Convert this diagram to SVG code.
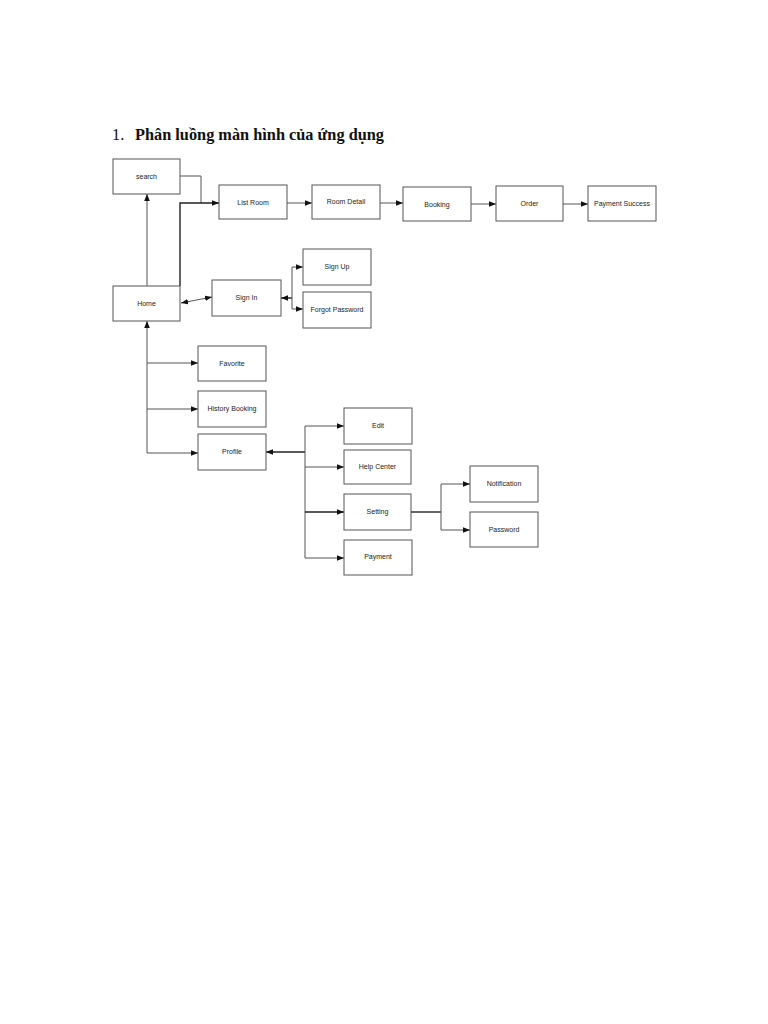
<svg xmlns="http://www.w3.org/2000/svg" width="768" height="1024" viewBox="0 0 768 1024">
<style>
.box{fill:#fff;stroke:#555;stroke-width:1}
.lbl{font-family:"Liberation Sans",Arial,sans-serif;font-size:7px;fill:#222;text-anchor:middle}
.ln{fill:none;stroke:#555;stroke-width:1}
.dk{fill:none;stroke:#222;stroke-width:1.4}
.title{font-family:"Liberation Serif","Times New Roman",serif;font-size:16.3px;fill:#111}
</style>
<defs>
<marker id="ar" viewBox="0 0 10 10" refX="10" refY="5" markerWidth="7" markerHeight="7" orient="auto-start-reverse" markerUnits="userSpaceOnUse">
<path d="M0,1 L10,5 L0,9 z" fill="#111"/>
</marker>
</defs>
<rect width="768" height="1024" fill="#fff"/>
<text class="title" x="112" y="140">1.</text>
<text class="title" x="135" y="140" font-weight="bold" textLength="249" lengthAdjust="spacingAndGlyphs">Phân luồng màn hình của ứng dụng</text>

<g id="connectors">
<path class="ln" d="M147,286 V194" marker-end="url(#ar)"/>
<path class="ln" d="M180,176 H201 V203"/>
<path class="dk" d="M180,286 V203 H219" marker-end="url(#ar)"/>
<path class="ln" d="M287,203 H312" marker-end="url(#ar)"/>
<path class="ln" d="M380,203 H403" marker-end="url(#ar)"/>
<path class="ln" d="M471,204 H496" marker-end="url(#ar)"/>
<path class="ln" d="M563,204 H588" marker-end="url(#ar)"/>
<path class="ln" d="M181,303 L212,297" marker-start="url(#ar)" marker-end="url(#ar)"/>
<path class="dk" d="M292,298 H281" marker-end="url(#ar)"/>
<path class="ln" d="M303,267 H292 V309 H303" marker-start="url(#ar)" marker-end="url(#ar)"/>
<path class="ln" d="M147,453 V321" marker-end="url(#ar)"/>
<path class="ln" d="M147,363 H198" marker-end="url(#ar)"/>
<path class="ln" d="M147,409 H198" marker-end="url(#ar)"/>
<path class="ln" d="M147,453 H198" marker-end="url(#ar)"/>
<path class="dk" d="M305,452 H266" marker-end="url(#ar)"/>
<path class="ln" d="M344,426 H305 V558 H344" marker-start="url(#ar)" marker-end="url(#ar)"/>
<path class="ln" d="M305,467 H344" marker-end="url(#ar)"/>
<path class="dk" d="M305,512 H344" marker-end="url(#ar)"/>
<path class="dk" d="M411,512 H441"/>
<path class="ln" d="M470,484 H441 V530 H470" marker-start="url(#ar)" marker-end="url(#ar)"/>
</g>

<g id="n-search"><rect class="box" x="113" y="159" width="67" height="35"/><text class="lbl" x="146.5" y="179">search</text></g>
<g id="n-listroom"><rect class="box" x="219" y="185" width="68" height="34"/><text class="lbl" x="253" y="205">List Room</text></g>
<g id="n-roomdetail"><rect class="box" x="312" y="185" width="68" height="34"/><text class="lbl" x="346" y="204">Room Detail</text></g>
<g id="n-booking"><rect class="box" x="403" y="187" width="68" height="34"/><text class="lbl" x="437" y="207">Booking</text></g>
<g id="n-order"><rect class="box" x="496" y="186" width="67" height="35"/><text class="lbl" x="529.5" y="206">Order</text></g>
<g id="n-paysuccess"><rect class="box" x="588" y="186" width="68" height="35"/><text class="lbl" x="622" y="206">Payment Success</text></g>
<g id="n-home"><rect class="box" x="113" y="286" width="67" height="35"/><text class="lbl" x="146.5" y="306">Home</text></g>
<g id="n-signin"><rect class="box" x="212" y="280" width="69" height="36"/><text class="lbl" x="246.5" y="300">Sign In</text></g>
<g id="n-signup"><rect class="box" x="303" y="249" width="68" height="36"/><text class="lbl" x="337" y="269">Sign Up</text></g>
<g id="n-forgot"><rect class="box" x="303" y="292" width="68" height="36"/><text class="lbl" x="337" y="312">Forgot Password</text></g>
<g id="n-favorite"><rect class="box" x="198" y="346" width="68" height="35"/><text class="lbl" x="232" y="366">Favorite</text></g>
<g id="n-history"><rect class="box" x="198" y="391" width="68" height="36"/><text class="lbl" x="232" y="411">History Booking</text></g>
<g id="n-profile"><rect class="box" x="198" y="434" width="68" height="36"/><text class="lbl" x="232" y="454">Profile</text></g>
<g id="n-edit"><rect class="box" x="344" y="408" width="68" height="36"/><text class="lbl" x="378" y="428">Edit</text></g>
<g id="n-help"><rect class="box" x="344" y="450" width="67" height="34"/><text class="lbl" x="377.5" y="469">Help Center</text></g>
<g id="n-setting"><rect class="box" x="344" y="494" width="67" height="36"/><text class="lbl" x="377.5" y="514">Setting</text></g>
<g id="n-payment"><rect class="box" x="344" y="540" width="68" height="35"/><text class="lbl" x="378" y="559">Payment</text></g>
<g id="n-notification"><rect class="box" x="470" y="466" width="68" height="36"/><text class="lbl" x="504" y="486">Notification</text></g>
<g id="n-password"><rect class="box" x="470" y="512" width="68" height="35"/><text class="lbl" x="504" y="532">Password</text></g>
</svg>
